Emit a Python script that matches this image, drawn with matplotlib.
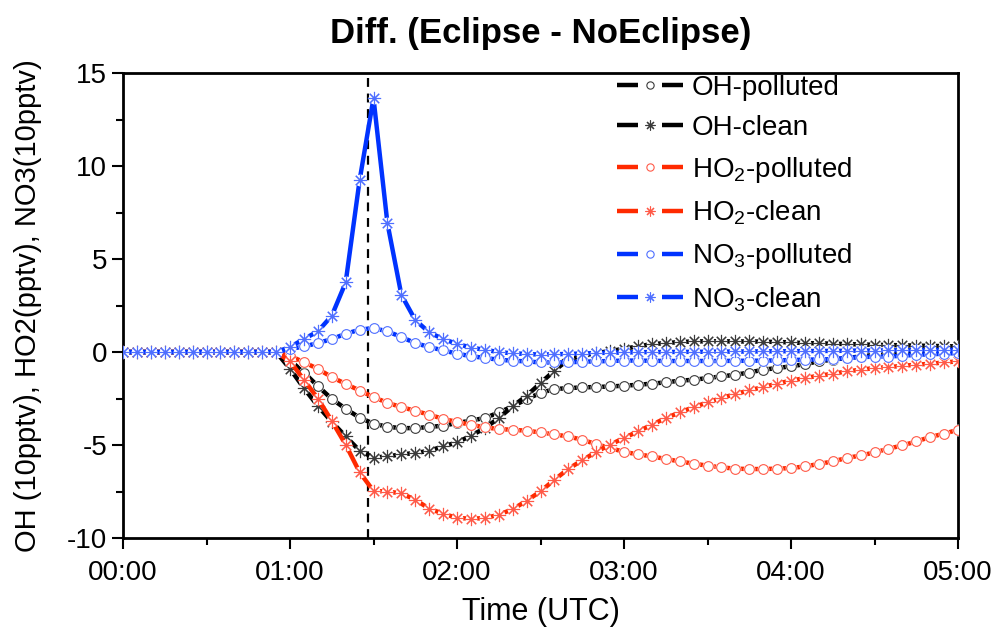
'''
Difference plot (Eclipse - NoEclipse) of OH, HO2 and NO3 for the polluted
and clean scenarios, drawn in the Origin-like style of the publication.
'''

import numpy as np
import matplotlib
matplotlib.use('Agg')
import matplotlib.pyplot as plt
import matplotlib.ticker as mtk
from matplotlib.lines import Line2D
from matplotlib.legend_handler import HandlerTuple

plt.rcParams['font.family'] = ['Liberation Sans', 'DejaVu Sans']
plt.rcParams['mathtext.fontset'] = 'custom'
plt.rcParams['mathtext.rm'] = 'Liberation Sans'
plt.rcParams['axes.unicode_minus'] = False

# model output every 5 minutes, 00:00 - 05:00 UTC
time_h = np.arange(61) * 5 / 60.
eclipse_max_h = 1 + 28 / 60.

zeros = [0.0] * 12

oh_polluted = zeros + [
    -0.45, -1.10, -1.83, -2.52, -3.05, -3.53, -3.85, -4.02, -4.09, -4.09,
    -4.03, -3.96, -3.82, -3.68, -3.55, -3.25, -2.92, -2.53, -2.20, -1.99,
    -1.94, -1.90, -1.88, -1.85, -1.81, -1.76, -1.70, -1.63, -1.54, -1.49,
    -1.40, -1.31, -1.22, -1.10, -0.95, -0.86, -0.77, -0.65, -0.50, -0.41,
    -0.32, -0.24, -0.15, -0.05, 0.00, 0.03, 0.08, 0.12, 0.16]

oh_clean = zeros + [
    -0.90, -1.94, -2.90, -3.75, -4.54, -5.30, -5.68, -5.61, -5.50, -5.43,
    -5.31, -5.07, -4.86, -4.50, -4.09, -3.55, -2.92, -2.35, -1.67, -1.00,
    -0.40, -0.20, -0.05, 0.05, 0.18, 0.30, 0.43, 0.48, 0.54, 0.57,
    0.58, 0.58, 0.57, 0.57, 0.56, 0.54, 0.52, 0.48, 0.47, 0.45,
    0.43, 0.41, 0.39, 0.38, 0.36, 0.35, 0.33, 0.32, 0.30]

ho2_polluted = zeros + [
    -0.20, -0.55, -0.90, -1.35, -1.71, -2.07, -2.42, -2.73, -2.96, -3.16,
    -3.37, -3.59, -3.76, -3.91, -4.05, -4.14, -4.18, -4.23, -4.32, -4.43,
    -4.54, -4.72, -4.95, -5.16, -5.37, -5.50, -5.61, -5.75, -5.88, -6.00,
    -6.11, -6.20, -6.27, -6.29, -6.29, -6.27, -6.24, -6.15, -6.02, -5.88,
    -5.70, -5.56, -5.40, -5.20, -5.02, -4.81, -4.57, -4.39, -4.18]

ho2_clean = zeros + [
    -0.50, -1.49, -2.50, -3.70, -4.98, -6.46, -7.47, -7.50, -7.60, -7.94,
    -8.42, -8.69, -8.92, -8.96, -8.93, -8.75, -8.45, -8.00, -7.49, -6.87,
    -6.28, -5.82, -5.37, -4.98, -4.62, -4.27, -3.91, -3.55, -3.25, -2.96,
    -2.71, -2.47, -2.26, -2.06, -1.88, -1.70, -1.54, -1.40, -1.27, -1.17,
    -1.04, -0.95, -0.86, -0.81, -0.74, -0.68, -0.63, -0.56, -0.50]

no3_polluted = zeros + [
    0.16, 0.30, 0.48, 0.70, 0.98, 1.20, 1.29, 1.11, 0.81, 0.48,
    0.27, 0.09, -0.09, -0.22, -0.32, -0.41, -0.47, -0.50, -0.56, -0.56,
    -0.55, -0.52, -0.50, -0.48, -0.46, -0.46, -0.47, -0.48, -0.48, -0.48,
    -0.48, -0.48, -0.47, -0.47, -0.46, -0.45, -0.43, -0.41, -0.40, -0.38,
    -0.32, -0.27, -0.25, -0.24, -0.20, -0.15, -0.12, -0.09, -0.05]

no3_clean = zeros + [
    0.27, 0.70, 1.11, 1.95, 3.74, 9.23, 13.65, 6.93, 3.08, 1.72,
    1.06, 0.70, 0.44, 0.24, 0.12, 0.00, -0.07, -0.10, -0.14, -0.12,
    -0.10, -0.08, -0.05, -0.04, -0.02, -0.01, 0.00, 0.00, 0.01, 0.01,
    0.02, 0.02, 0.03, 0.03, 0.04, 0.04, 0.05, 0.05, 0.06, 0.06,
    0.07, 0.08, 0.08, 0.09, 0.10, 0.10, 0.11, 0.11, 0.12]

labels = ['OH-polluted', 'OH-clean', r'HO$_2$-polluted', r'HO$_2$-clean',
          r'NO$_3$-polluted', r'NO$_3$-clean']
series = [oh_polluted, oh_clean, ho2_polluted, ho2_clean, no3_polluted,
          no3_clean]
line_colours = ['#000000', '#000000', '#ff2a00', '#ff2a00', '#0033ff',
                '#0033ff']
marker_colours = ['#3a3a3a', '#3a3a3a', '#ff5a48', '#ff5a48', '#4f6fff',
                  '#4f6fff']
asterisk = (8, 2, 0)
markers = ['o', asterisk, 'o', asterisk, 'o', asterisk]
# flat white box used to break the legend line around the symbol
break_box = [(-1, -0.3), (1, -0.3), (1, 0.3), (-1, 0.3), (-1, -0.3)]


fig, ax = plt.subplots(figsize=(10, 6.3), dpi=100)
fig.subplots_adjust(left=0.123, right=0.958, bottom=0.146, top=0.884)

handles = []
for i, (y, lab, lc, mc, mk) in enumerate(zip(series, labels, line_colours,
                                             marker_colours, markers)):
    z = 3 + i
    ms = 7 if mk == 'o' else 9.5
    ax.plot(time_h, y, color=lc, lw=3.2, solid_capstyle='butt', zorder=z)
    # white disc behind each symbol gives the Origin-style line break
    ax.plot(time_h, y, ls='none', marker='o', ms=8.5, mfc='white',
            mec='white', mew=0, zorder=z + 0.1)
    ax.plot(time_h, y, ls='none', marker=mk, ms=ms, mfc='white', mec=mc,
            mew=0.8, zorder=z + 0.2)
    # legend proxies: line, wide break, small symbol
    handles.append((
        Line2D([], [], color=lc, lw=3.2, solid_capstyle='butt'),
        Line2D([], [], ls='none', marker=break_box, ms=17, mfc='white',
               mec='white', mew=0),
        Line2D([], [], ls='none', marker=mk, ms=ms * 0.75, mfc='white',
               mec=mc, mew=0.8)))

ax.axvline(eclipse_max_h, color='black', lw=1.6, ls=(0, (4, 3)), zorder=2)

ax.set_xlim(0, 5)
ax.set_ylim(-10, 15)
ax.xaxis.set_major_locator(mtk.MultipleLocator(1))
ax.xaxis.set_minor_locator(mtk.MultipleLocator(0.5))
ax.xaxis.set_major_formatter(mtk.FuncFormatter(
    lambda h, _: '%02d:%02d' % (int(h), int(round((h % 1) * 60)))))
ax.yaxis.set_major_locator(mtk.MultipleLocator(5))
ax.yaxis.set_minor_locator(mtk.MultipleLocator(2.5))
ax.tick_params(which='both', direction='out', width=1.5, labelsize=20,
               top=False, right=False)
ax.tick_params(which='major', length=8)
ax.tick_params(which='minor', length=5)
ax.tick_params(axis='x', which='major', pad=8)
for sp in ax.spines.values():
    sp.set_linewidth(2)

ax.set_title('Diff. (Eclipse - NoEclipse)', fontsize=25, fontweight='bold',
             pad=22)
ax.set_xlabel('Time (UTC)', fontsize=22, labelpad=8)
ax.set_ylabel('OH (10pptv), HO2(pptv), NO3(10pptv)', fontsize=21)
ax.yaxis.set_label_coords(-0.097, 0.5)

ax.legend(handles, labels, loc='upper left', bbox_to_anchor=(0.578, 1.02),
          frameon=False, fontsize=20, handlelength=2.4, handletextpad=0.3,
          labelspacing=0.5, borderaxespad=0,
          handler_map={tuple: HandlerTuple(ndivide=1, pad=0)})

fig.savefig('out.png', dpi=100)
